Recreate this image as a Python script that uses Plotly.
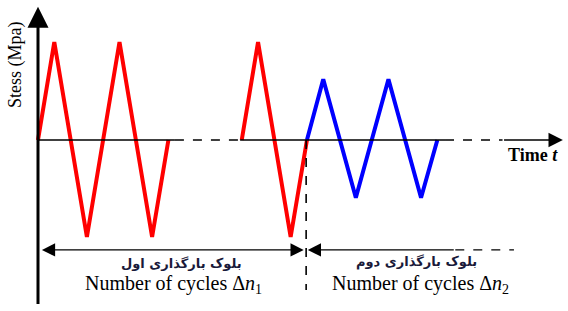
import plotly.graph_objects as go

# ---- data (time in schematic units, stress normalised) ----
red1_t = [0, 1, 3, 5, 7, 8]
red1_s = [0, 1.0, -0.99, 1.0, -0.99, 0]
red2_t = [12.5, 13.5, 15.5, 16.5]
red2_s = [0, 1.0, -0.99, 0]
blue_t = [16.5, 17.5, 19.5, 21.5, 23.5, 24.5]
blue_s = [0, 0.62, -0.59, 0.62, -0.59, 0]

block1_label_fa = "بلوک بارگذاری اول"
block2_label_fa = "بلوک بارگذاری دوم"
block1_label_en = "Number of cycles Δ<i>n</i><sub>1</sub>"
block2_label_en = "Number of cycles Δ<i>n</i><sub>2</sub>"
x_title = "<b>Time <i>t</i></b>"
y_title = "Stess (Mpa)"

# axis extents (schematic)
x_split = 16.45      # boundary between blocks
arrow_y = -1.122     # level of the double arrows

fig = go.Figure()
fig.add_trace(go.Scatter(x=red1_t, y=red1_s, mode="lines",
                         line=dict(color="#ff0000", width=4), hoverinfo="skip"))
fig.add_trace(go.Scatter(x=red2_t, y=red2_s, mode="lines",
                         line=dict(color="#ff0000", width=4), hoverinfo="skip"))
fig.add_trace(go.Scatter(x=blue_t, y=blue_s, mode="lines",
                         line=dict(color="#0000ff", width=4), hoverinfo="skip"))

shapes = []
# horizontal time axis pieces
shapes.append(dict(type="line", x0=0, x1=8.4, y0=0, y1=0, line=dict(color="black", width=1.6)))
shapes.append(dict(type="line", x0=8.4, x1=12.4, y0=0, y1=0, line=dict(color="black", width=1.6, dash="dash")))
shapes.append(dict(type="line", x0=12.4, x1=24.97, y0=0, y1=0, line=dict(color="black", width=1.6)))
shapes.append(dict(type="line", x0=24.97, x1=28.5, y0=0, y1=0, line=dict(color="black", width=1.6, dash="dash")))
# vertical dashed block separator
shapes.append(dict(type="line", x0=x_split, x1=x_split, y0=0, y1=-1.53, line=dict(color="black", width=1.6, dash="dash")))
# dashed continuation of second arrow
shapes.append(dict(type="line", x0=25.6, x1=29.2, y0=arrow_y, y1=arrow_y, line=dict(color="black", width=1.2, dash="dash")))

annotations = []
# y axis arrow
annotations.append(dict(x=0, y=1.36, ax=0, ay=-1.69, xref="x", yref="y", axref="x", ayref="y",
                        text="", showarrow=True, arrowhead=2, arrowsize=1.4, arrowwidth=3, arrowcolor="black"))
# x axis arrow
annotations.append(dict(x=32.2, y=0, ax=28.5, ay=0, xref="x", yref="y", axref="x", ayref="y",
                        text="", showarrow=True, arrowhead=2, arrowsize=1.8, arrowwidth=1.6, arrowcolor="black"))
# block 1 double arrow
annotations.append(dict(x=x_split - 0.15, y=arrow_y, ax=0.15, ay=arrow_y, xref="x", yref="y", axref="x", ayref="y",
                        text="", showarrow=True, arrowhead=2, startarrowhead=2, arrowside="end+start",
                        arrowsize=2.2, startarrowsize=2.2, arrowwidth=1.2, arrowcolor="black"))
# block 2 arrow (pointing left)
annotations.append(dict(x=x_split + 0.1, y=arrow_y, ax=25.6, ay=arrow_y, xref="x", yref="y", axref="x", ayref="y",
                        text="", showarrow=True, arrowhead=2, arrowsize=2.2, arrowwidth=1.2, arrowcolor="black"))

serif = "Liberation Serif"
annotations.append(dict(x=8.83, y=-1.26, xref="x", yref="y", text="<b>" + block1_label_fa + "</b>", showarrow=False,
                        font=dict(family="DejaVu Sans", size=13, color="#1a1a3a")))
annotations.append(dict(x=23.25, y=-1.24, xref="x", yref="y", text="<b>" + block2_label_fa + "</b>", showarrow=False,
                        font=dict(family="DejaVu Sans", size=13, color="#1a1a3a")))
annotations.append(dict(x=8.34, y=-1.47, xref="x", yref="y", text=block1_label_en, showarrow=False,
                        font=dict(family=serif, size=20, color="black")))
annotations.append(dict(x=23.44, y=-1.47, xref="x", yref="y", text=block2_label_en, showarrow=False,
                        font=dict(family=serif, size=20, color="black")))
annotations.append(dict(x=30.37, y=-0.153, xref="x", yref="y", text=x_title, showarrow=False,
                        font=dict(family=serif, size=18, color="black")))
annotations.append(dict(x=-1.41, y=0.765, xref="x", yref="y", text=y_title, showarrow=False, textangle=-90,
                        font=dict(family=serif, size=18, color="black")))

fig.update_layout(
    width=568, height=311,
    margin=dict(l=0, r=0, t=0, b=0),
    paper_bgcolor="white", plot_bgcolor="white",
    showlegend=False,
    shapes=shapes, annotations=annotations,
    xaxis=dict(range=[-2.331, 32.515], visible=False, fixedrange=True),
    yaxis=dict(range=[-1.745, 1.4286], visible=False, fixedrange=True),
)
fig.write_html("out.html", config={"displayModeBar": False},
               post_script="document.body.style.margin='0';document.body.style.overflow='hidden';")
